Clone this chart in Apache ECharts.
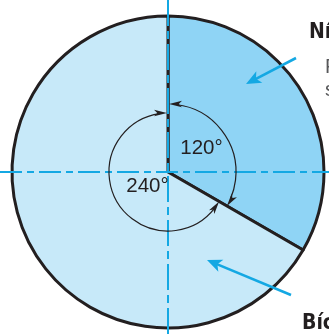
<!DOCTYPE html>
<html><head><meta charset="utf-8">
<script src="https://cdn.jsdelivr.net/npm/echarts@6/dist/echarts.min.js"></script>
<style>html,body{margin:0;padding:0;background:#fff}#c{width:329px;height:336px}</style>
</head><body><div id="c"></div>
<script>
// Data
const categories = ['120°', '240°'];
const values = [120, 240];
const sideLabelsTop = ['Ní', 'F', 's'];
const sideLabelsBottom = ['Bíc', 'nói'];

const CX = 168, CY = 172, R = 156;
const cyan = '#14a8e3', ink = '#231f20';
const chart = echarts.init(document.getElementById('c'), null, {renderer: 'canvas'});

function arrowHead(tipX, tipY, dx, dy, len, hw, color) {
  const L = Math.hypot(dx, dy), ux = dx / L, uy = dy / L;
  const px = -uy, py = ux;
  const bx = tipX - ux * len, by = tipY - uy * len;
  const nx = tipX - ux * len * 0.75, ny = tipY - uy * len * 0.75;
  return {type: 'polygon', silent: true, z: 20,
    shape: {points: [[tipX, tipY], [bx + px * hw, by + py * hw], [nx, ny], [bx - px * hw, by - py * hw]]},
    style: {fill: color}};
}
function callout(x1, y1, x2, y2) {
  const dx = x2 - x1, dy = y2 - y1, L = Math.hypot(dx, dy);
  const ux = dx / L, uy = dy / L;
  return [
    {type: 'line', silent: true, z: 19, shape: {x1: x1, y1: y1, x2: x2 - ux * 8, y2: y2 - uy * 8},
     style: {stroke: cyan, lineWidth: 2.6}},
    arrowHead(x2, y2, dx, dy, 15, 6.5, cyan)
  ];
}
const a120 = Math.PI / 6; // end angle of the 120° slice (screen radians)
const rR = 68, rL = 59;
const g = [];
// crosshair dashed lines
g.push({type: 'line', silent: true, z: 15, shape: {x1: 0, y1: CY, x2: 329, y2: CY},
  style: {stroke: cyan, lineWidth: 2, lineDash: [22, 5, 7, 5]}});
g.push({type: 'line', silent: true, z: 15, shape: {x1: CX, y1: 0, x2: CX, y2: 336},
  style: {stroke: cyan, lineWidth: 2, lineDash: [26, 5, 8, 5]}});
// inner arcs
g.push({type: 'arc', silent: true, z: 18, shape: {cx: CX, cy: CY, r: rR, startAngle: -Math.PI / 2 + 0.12, endAngle: a120 - 0.12, clockwise: true},
  style: {stroke: ink, lineWidth: 1.2, fill: null}});
g.push({type: 'arc', silent: true, z: 18, shape: {cx: CX, cy: CY, r: rL, startAngle: a120 + 0.13, endAngle: 1.5 * Math.PI - 0.14, clockwise: true},
  style: {stroke: ink, lineWidth: 1.2, fill: null}});
// arrowheads of inner arcs
g.push(arrowHead(CX + 1, CY - rR, -1, 0, 13, 3.2, ink));
g.push(arrowHead(CX + rR * Math.cos(a120), CY + rR * Math.sin(a120), -Math.sin(a120) - 0.1, Math.cos(a120), 13, 3.2, ink));
g.push(arrowHead(CX - 1, CY - rL, 1, 0, 13, 3.2, ink));
g.push(arrowHead(CX + rL * Math.cos(a120), CY + rL * Math.sin(a120), Math.sin(a120) + 0.1, -Math.cos(a120), 13, 3.2, ink));
// angle labels
const angleFont = '20.5px "Liberation Sans", Arial, sans-serif';
g.push({type: 'text', silent: true, z: 21, style: {text: categories[0], x: 201.5, y: 148, align: 'center', verticalAlign: 'middle', font: angleFont, fill: ink}});
g.push({type: 'text', silent: true, z: 21, style: {text: categories[1], x: 147.5, y: 186, align: 'center', verticalAlign: 'middle', font: angleFont, fill: ink}});
// callouts
callout(296, 58, 246, 84).forEach(e => g.push(e));
callout(291, 295, 207, 260).forEach(e => g.push(e));
// side texts
const boldFont = 'bold 21px "Liberation Sans Narrow", "DejaVu Sans Condensed", "Liberation Sans", sans-serif';
const grayFont = '20px "Liberation Sans Narrow", "Liberation Sans", sans-serif';
g.push({type: 'text', silent: true, z: 21, style: {text: sideLabelsTop[0], x: 309, y: 22, verticalAlign: 'alphabetic', font: boldFont, fill: ink}});
g.push({type: 'text', silent: true, z: 21, style: {text: sideLabelsTop[1], x: 325, y: 57, verticalAlign: 'alphabetic', font: grayFont, fill: '#58595b'}});
g.push({type: 'text', silent: true, z: 21, style: {text: sideLabelsTop[2], x: 325, y: 80, verticalAlign: 'alphabetic', font: grayFont, fill: '#58595b'}});
g.push({type: 'text', silent: true, z: 21, style: {text: sideLabelsBottom[0], x: 302, y: 313, verticalAlign: 'alphabetic', font: boldFont, fill: ink}});
g.push({type: 'text', silent: true, z: 21, style: {text: sideLabelsBottom[1], x: 302, y: 339, verticalAlign: 'alphabetic', font: boldFont, fill: ink}});

chart.setOption({
  animation: false,
  series: [{
    type: 'pie',
    center: [CX, CY],
    radius: [0, R],
    startAngle: 90,
    clockwise: true,
    silent: true,
    label: {show: false},
    labelLine: {show: false},
    itemStyle: {borderColor: ink, borderWidth: 3},
    data: categories.map((c, i) => ({name: c, value: values[i],
      itemStyle: {color: i === 0 ? '#8fd4f5' : '#c7e9f9'}}))
  }],
  graphic: g
});
</script></body></html>
